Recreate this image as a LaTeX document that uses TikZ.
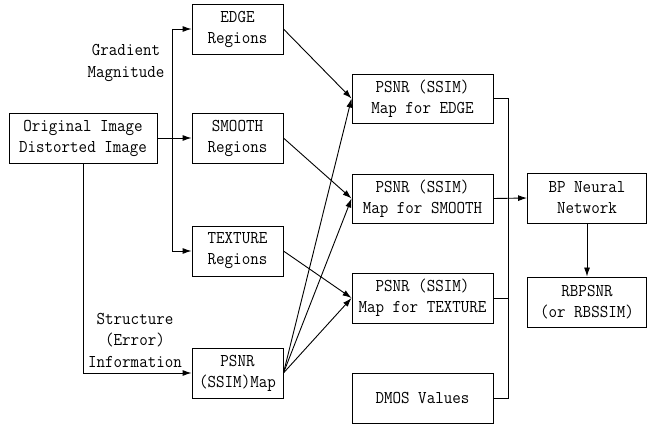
\documentclass[tikz,border=0pt]{standalone}
\usepackage{fontspec}
\usetikzlibrary{arrows.meta}
\newfontfamily\diagfont[FakeStretch=0.92]{Latin Modern Mono}
\begin{document}
\begin{tikzpicture}[x=1pt,y=-1pt,
  box/.style={draw,line width=0.9pt,inner sep=0pt,align=center,minimum height=50pt,
    font=\diagfont\fontsize{18}{21}\selectfont},
  lbl/.style={inner sep=0pt,align=center,font=\diagfont\fontsize{18}{21.5}\selectfont},
  conn/.style={line width=0.9pt},
  arr/.style={line width=0.9pt,-{Latex[length=9pt,width=6pt]}}]
\useasboundingbox (0,0) rectangle (647,427);
% boxes
\node[box,minimum width=148pt] (orig) at (83,138) {Original Image\\Distorted Image};
\node[box,minimum width=91pt] (edge) at (237.5,29) {EDGE\\Regions};
\node[box,minimum width=91pt] (smooth) at (237.5,138) {SMOOTH\\Regions};
\node[box,minimum width=91pt] (texture) at (237.5,251) {TEXTURE\\Regions};
\node[box,minimum width=91pt] (pmap) at (237.5,373) {PSNR\\(SSIM)Map};
\node[box,minimum width=141pt,minimum height=49pt] (pe) at (422.5,98.5) {PSNR (SSIM)\\Map for EDGE};
\node[box,minimum width=141pt,minimum height=49pt] (ps) at (422.5,198.5) {PSNR (SSIM)\\Map for SMOOTH};
\node[box,minimum width=141pt] (pt) at (422.5,298) {PSNR (SSIM)\\Map for TEXTURE};
\node[box,minimum width=141pt] (dmos) at (422.5,398) {DMOS Values};
\node[box,minimum width=119pt] (bp) at (587,198) {BP Neural\\Network};
\node[box,minimum width=119pt] (rb) at (587,302) {RBPSNR\\(or RBSSIM)};
% labels
\node[lbl] (gm) at (126,63) {Gradient\\Magnitude};
\node[lbl] (sei) at (135,340) {Structure\\(Error)\\Information};
% branch from original image
\coordinate (b1) at (172,29);
\coordinate (b3) at (172,251);
\draw[arr] (orig.east) -- (smooth.west);
\draw[conn] (b1) -- (b3);
\draw[arr] (b1) -- (edge.west);
\draw[arr] (b3) -- (texture.west);
\draw[arr] (orig.south) |- (pmap.west);
% regions to maps
\draw[arr] (edge.east) -- (pe.west);
\draw[arr] (smooth.east) -- (ps.west);
\draw[arr] (texture.east) -- (pt.west);
\draw[arr] (pmap.east) -- (pe.west);
\draw[arr] (pmap.east) -- (ps.west);
\draw[arr] (pmap.east) -- (pt.west);
% collector
\coordinate (c1) at (508,98.5);
\coordinate (c4) at (508,398);
\draw[conn] (pe.east) -- (c1) -- (c4) -- (dmos.east);
\draw[conn] (pt.east) -- (pt.east -| c1);
\draw[arr] (ps.east) -- (bp.west);
\draw[arr] (bp.south) -- (rb.north);
\end{tikzpicture}
\end{document}
